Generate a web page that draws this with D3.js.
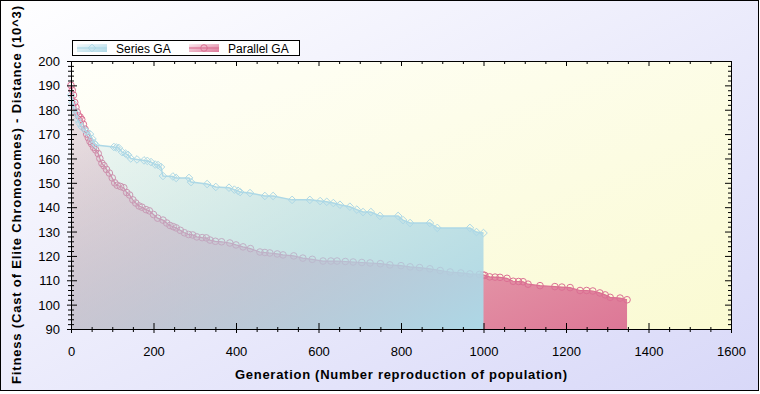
<!DOCTYPE html>
<html><head><meta charset="utf-8">
<script src="https://cdn.jsdelivr.net/npm/d3@7"></script>
<style>body{margin:0;background:#fff}svg{display:block}text{font-family:Arial,"Liberation Sans",sans-serif}</style>
</head><body><svg id="c" width="760" height="394"></svg>
<script>
const seriesName = "Series GA";
const seriesGen = [0,4,8,12,16,20,26,32,38,46,52,56,60,104,110,116,124,132,138,145,160,177,185,194,204,211,218,223,247,255,286,291,330,351,383,396,405,410,434,470,490,536,579,604,620,636,652,676,693,708,727,749,793,805,822,870,888,967,983,1000];
const seriesVal = [186,183,180,178.5,176,174.5,173,172,171,170,168,166.3,165.5,164.7,164.5,164.3,162.6,162,161.5,160,159.6,159.2,159,158.5,157.5,157.3,156.5,152.8,152.6,152,152,150.3,149.5,148.3,148,147.2,146.7,146.2,145.8,144.6,144.6,143,143,142.5,142.2,141.7,141,140.2,139,138,138,136.4,136.4,134.7,133.5,133.5,131.5,131.5,129.8,129.4];
const parallelName = "Parallel GA";
const parallelGen = [0,3,6,9,12,15,18,22,26,30,34,38,42,46,50,55,60,66,70,75,80,86,93,100,106,112,120,128,135,142,150,157,165,172,182,190,200,210,223,232,240,248,255,265,275,285,295,305,318,328,337,350,365,385,400,417,435,458,470,482,500,514,540,562,585,611,630,645,665,684,705,725,750,773,800,822,845,870,895,919,945,967,990,999,1003,1015,1028,1040,1057,1072,1085,1096,1108,1137,1173,1190,1210,1234,1250,1265,1282,1295,1307,1331,1348];
const parallelVal = [190,188,186,183,181,179,177.5,177,176,174,172,170,168.5,167,166,164.5,163.5,162,160,158,157,155.5,154,152,150,149,148.5,148,146,145,143,141.7,140.5,140,139,138.5,137,135.5,134.7,133.5,132.5,132,131.5,130.5,129.5,128.8,128.6,127.8,127.5,127.4,126.5,126,125.8,125.3,124.5,123.7,123,121.6,121.4,121.2,120.8,120.4,120,119.1,118.6,117.9,117.9,117.9,117.7,117.5,117.3,117.1,116.8,116.3,116,115.5,115.2,114.7,114,113.4,113,112.6,112.4,112.2,112,111.4,111.3,111.2,110.8,109.6,109.5,109.4,108.4,107.8,107.4,107.2,107,105.8,105.8,105.6,104.8,104,103,102.7,102];
const xTicks = [0,200,400,600,800,1000,1200,1400,1600];
const xMinor = d3.range(0,1601,50).filter(v=>v%200!==0);
const yTicks = [90,100,110,120,130,140,150,160,170,180,190,200];
const yMinor = d3.range(90,201,2).filter(v=>v%10!==0);
const xTitle = "Generation (Number reproduction of population)";
const yTitle = "Fitness (Cast of Elite Chromosomes) - Distance (10^3)";

const svg = d3.select("#c");
const L=71, R=731, T=61, B=329;
const x = d3.scaleLinear().domain([0,1600]).range([L,R]);
const y = d3.scaleLinear().domain([90,200]).range([B,T]);

const defs = svg.append("defs");
function grad(id, c0, o0, c1, o1){
  const g = defs.append("linearGradient").attr("id",id).attr("x1",0).attr("y1",0).attr("x2",1).attr("y2",1);
  g.append("stop").attr("offset",0).attr("stop-color",c0).attr("stop-opacity",o0);
  g.append("stop").attr("offset",1).attr("stop-color",c1).attr("stop-opacity",o1);
}
grad("bgG","#ffffff",1,"#d8d8f8",1);
grad("plotG","#fffffa",1,"#fafad2",1);
grad("blueG","#add8e6",0.12,"#add8e6",1);
grad("pinkG","#db7093",0.15,"#db7093",0.95);

svg.append("rect").attr("x",0.5).attr("y",0.5).attr("width",758).attr("height",390)
  .attr("fill","url(#bgG)").attr("stroke","#000");
svg.append("rect").attr("x",L).attr("y",T).attr("width",R-L).attr("height",B-T).attr("fill","url(#plotG)");

const pData = parallelGen.map((g,i)=>[g,parallelVal[i]]);
const sData = seriesGen.map((g,i)=>[g,seriesVal[i]]);
const area = d3.area().x(d=>x(d[0])).y0(y(90)).y1(d=>y(d[1]));
const line = d3.line().x(d=>x(d[0])).y(d=>y(d[1]));

// parallel
svg.append("path").datum(pData).attr("d",area).attr("fill","url(#pinkG)");
svg.append("path").datum(pData).attr("d",line).attr("fill","none").attr("stroke","#db7093").attr("stroke-width",1.2);
svg.append("g").selectAll("circle").data(pData).join("circle")
  .attr("cx",d=>x(d[0])).attr("cy",d=>y(d[1])).attr("r",3.3)
  .attr("fill","none").attr("stroke","#db7093").attr("stroke-width",1);
// series
svg.append("path").datum(sData).attr("d",area).attr("fill","url(#blueG)");
svg.append("path").datum(sData).attr("d",line).attr("fill","none").attr("stroke","#add8e6").attr("stroke-width",1.5);
svg.append("g").selectAll("path").data(sData).join("path")
  .attr("transform",d=>`translate(${x(d[0])},${y(d[1])})`)
  .attr("d", "M0,-3.8L3.8,0L0,3.8L-3.8,0Z")
  .attr("fill","none").attr("stroke","#add8e6").attr("stroke-width",1);

// axes
function styleAxis(g){ g.selectAll("path.domain").attr("stroke","#000"); g.selectAll("line").attr("stroke","#000"); }
const gb = svg.append("g").attr("transform",`translate(0,${B})`)
  .call(d3.axisBottom(x).tickValues(xTicks).tickSizeOuter(0).tickSize(4).tickFormat(d3.format("d")));
gb.selectAll(".tick line").attr("y1",-6).attr("y2",4);
gb.selectAll(".tick text").attr("y",27).attr("dy",0).attr("font-size",13).attr("font-family","Arial, Liberation Sans, sans-serif").attr("fill","#000");
styleAxis(gb);
const gbm = svg.append("g").attr("transform",`translate(0,${B})`)
  .call(d3.axisBottom(x).tickValues(xMinor).tickSizeOuter(0).tickFormat(""));
gbm.selectAll(".tick line").attr("y1",-2).attr("y2",3); gbm.select(".domain").remove(); styleAxis(gbm);

const gl = svg.append("g").attr("transform",`translate(${L},0)`)
  .call(d3.axisLeft(y).tickValues(yTicks).tickSizeOuter(0).tickSize(4));
gl.selectAll(".tick line").attr("x1",-4).attr("x2",6);
gl.selectAll(".tick text").attr("x",-11).attr("dy","0.35em").attr("font-size",13).attr("font-family","Arial, Liberation Sans, sans-serif").attr("fill","#000");
styleAxis(gl);
const glm = svg.append("g").attr("transform",`translate(${L},0)`)
  .call(d3.axisLeft(y).tickValues(yMinor).tickSizeOuter(0).tickFormat(""));
glm.selectAll(".tick line").attr("x1",-3).attr("x2",3); glm.select(".domain").remove(); styleAxis(glm);

const gt = svg.append("g").attr("transform",`translate(0,${T})`)
  .call(d3.axisTop(x).tickValues(xTicks).tickSizeOuter(0).tickSize(-5).tickFormat(""));
styleAxis(gt);
const gtm = svg.append("g").attr("transform",`translate(0,${T})`)
  .call(d3.axisTop(x).tickValues(xMinor).tickSizeOuter(0).tickSize(-3).tickFormat(""));
gtm.select(".domain").remove(); styleAxis(gtm);
const gr = svg.append("g").attr("transform",`translate(${R},0)`)
  .call(d3.axisRight(y).tickValues(yTicks).tickSizeOuter(0).tickSize(-6).tickFormat(""));
styleAxis(gr);
const grm = svg.append("g").attr("transform",`translate(${R},0)`)
  .call(d3.axisRight(y).tickValues(yMinor).tickSizeOuter(0).tickSize(-3).tickFormat(""));
grm.select(".domain").remove(); styleAxis(grm);

// titles
svg.append("text").attr("x",(L+R)/2).attr("y",379).attr("text-anchor","middle")
  .attr("font-size",13).attr("font-weight","bold").attr("textLength",332).attr("lengthAdjust","spacing").text(xTitle);
svg.append("text").attr("transform",`translate(21,${(T+B)/2}) rotate(-90)`).attr("text-anchor","middle")
  .attr("font-size",13).attr("font-weight","bold").attr("textLength",378).attr("lengthAdjust","spacing").text(yTitle);

// legend
const lg = svg.append("g");
lg.append("rect").attr("x",72.5).attr("y",40.5).attr("width",227).attr("height",15).attr("fill","#fff").attr("stroke","#000");
const legItems = [
  {name:seriesName, x0:77, color:"#add8e6", grad:"url(#blueG)", tx:116, mark:"d"},
  {name:parallelName, x0:189, color:"#db7093", grad:"url(#pinkG)", tx:228, mark:"c"}
];
legItems.forEach(it=>{
  lg.append("rect").attr("x",it.x0).attr("y",44).attr("width",30).attr("height",8).attr("fill",it.grad);
  lg.append("line").attr("x1",it.x0).attr("x2",it.x0+30).attr("y1",48).attr("y2",48).attr("stroke",it.color).attr("stroke-width",1.2);
  if(it.mark==="d") lg.append("path").attr("transform",`translate(${it.x0+15},48)`).attr("d","M0,-3.8L3.8,0L0,3.8L-3.8,0Z").attr("fill","none").attr("stroke",it.color);
  else lg.append("circle").attr("cx",it.x0+15).attr("cy",48).attr("r",3.3).attr("fill","none").attr("stroke",it.color);
  lg.append("text").attr("x",it.tx).attr("y",52.5).attr("font-size",12).attr("fill","#000").text(it.name);
});
</script></body></html>
